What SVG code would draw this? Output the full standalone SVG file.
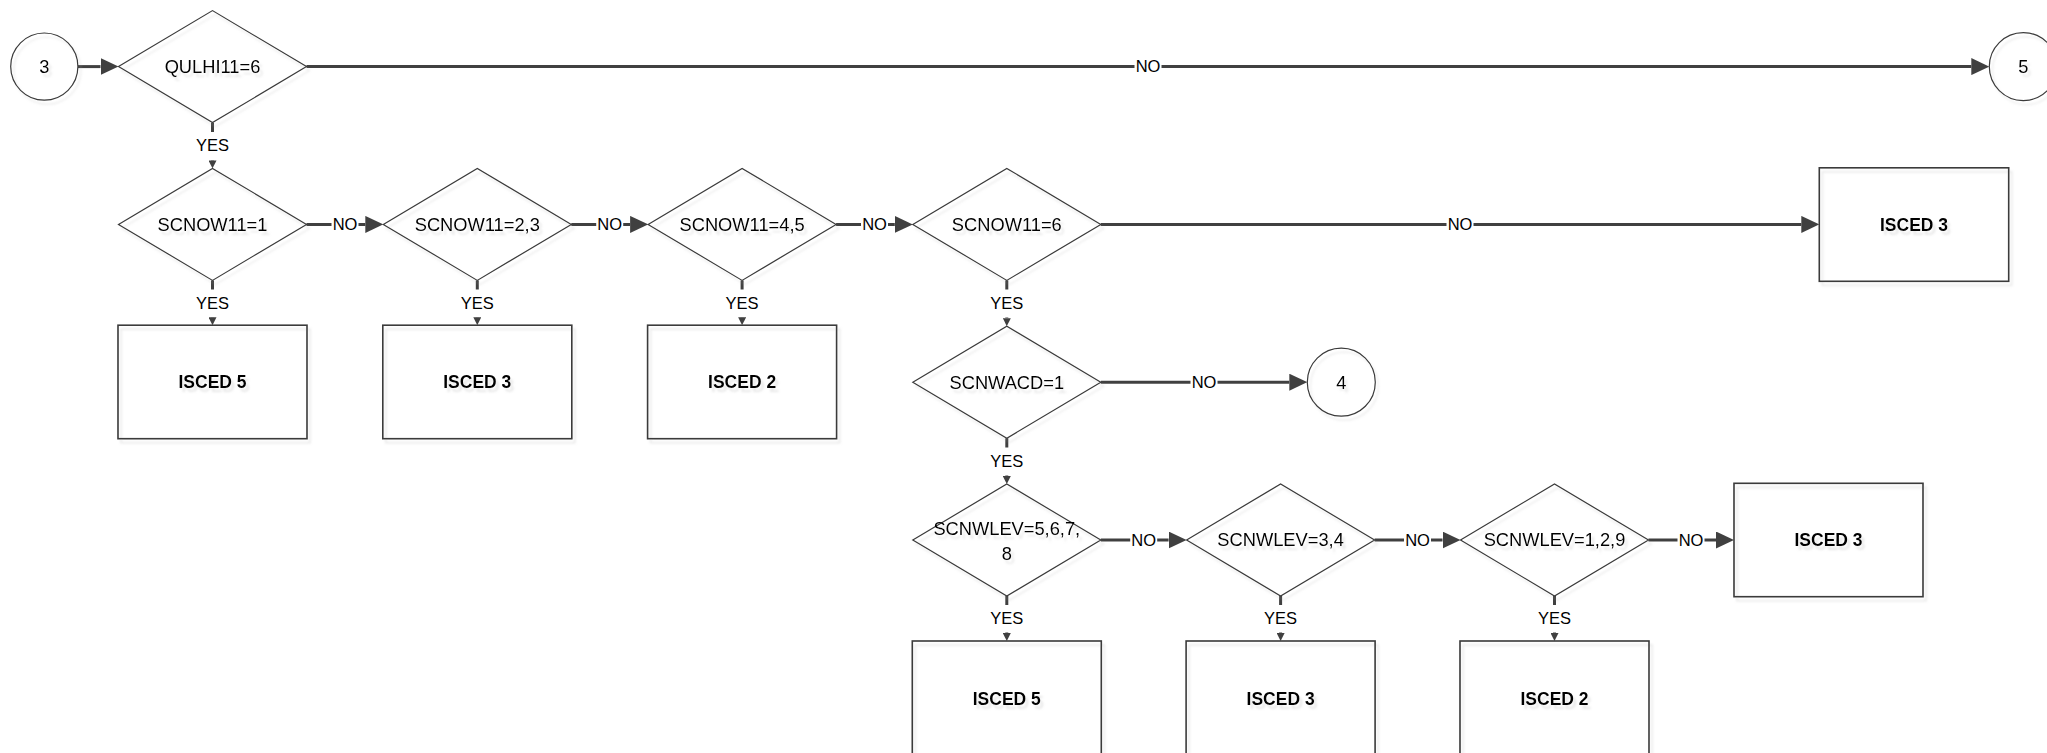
<svg xmlns="http://www.w3.org/2000/svg" width="2047" height="753" viewBox="0 0 2047 753">
<style>
  .shape { fill: none; stroke: #3a3a3a; stroke-width: 1.2; }
  .box { fill: none; stroke: #3a3a3a; stroke-width: 1.6; }
  .t { font-family: "Liberation Sans", Arial, sans-serif; font-size: 18.3px; fill: #000; text-anchor: middle; }
  .tb { font-family: "Liberation Sans", Arial, sans-serif; font-size: 17.5px; font-weight: bold; fill: #000; text-anchor: middle; }
  .node { filter: url(#sh); }
  .c { fill: none; stroke: #404040; stroke-width: 3; }
  .big { marker-end: url(#ab); }
  .small { marker-end: url(#as); }
  .lb { fill: #fff; }
  .lt { font-family: "Liberation Sans", Arial, sans-serif; font-size: 16.5px; fill: #000; text-anchor: middle; }
</style>
<defs>
  <filter id="sh" x="-10%" y="-10%" width="130%" height="130%">
    <feDropShadow dx="3" dy="4" stdDeviation="0.8" flood-color="#b0b0b0" flood-opacity="0.28"/>
  </filter>
  <marker id="ab" markerUnits="userSpaceOnUse" viewBox="0 0 18 17" refX="0" refY="8.5" markerWidth="18" markerHeight="17" orient="auto">
    <path d="M0,0 L18,8.5 L0,17 Z" fill="#404040"/>
  </marker>
  <marker id="as" markerUnits="userSpaceOnUse" viewBox="0 0 8 8" refX="0" refY="4" markerWidth="8" markerHeight="8" orient="auto">
    <path d="M0,0 L8,4 L0,8 Z" fill="#404040"/>
  </marker>
</defs>
<rect width="2047" height="753" fill="#fff"/>

<g id="connectors">
  <path class="c big" d="M78,66.6 H100.5"/>
  <path class="c big" d="M306.5,66.6 H1971.3"/>
  <rect class="lb" x="1134.5" y="57" width="27" height="19"/>
  <text class="lt" x="1148" y="72.4">NO</text>
  <path class="c small" d="M212.5,122.6 V160.4"/>
  <rect class="lb" x="195" y="132" width="35" height="28"/>
  <text class="lt" x="212.5" y="151.3">YES</text>

  <path class="c small" d="M212.5,280.4 V317.2"/>
  <rect class="lb" x="195" y="289.5" width="35" height="27.5"/>
  <text class="lt" x="212.5" y="308.6">YES</text>
  <path class="c big" d="M306.5,224.4 H365.3"/>
  <rect class="lb" x="331.5" y="215" width="27" height="19"/>
  <text class="lt" x="345" y="230.2">NO</text>

  <path class="c small" d="M477.3,280.4 V317.2"/>
  <rect class="lb" x="459.8" y="289.5" width="35" height="27.5"/>
  <text class="lt" x="477.3" y="308.6">YES</text>
  <path class="c big" d="M571.3,224.4 H630.1"/>
  <rect class="lb" x="596.2" y="215" width="27" height="19"/>
  <text class="lt" x="609.7" y="230.2">NO</text>

  <path class="c small" d="M742.1,280.4 V317.2"/>
  <rect class="lb" x="724.6" y="289.5" width="35" height="27.5"/>
  <text class="lt" x="742.1" y="308.6">YES</text>
  <path class="c big" d="M836.1,224.4 H894.8"/>
  <rect class="lb" x="861" y="215" width="27" height="19"/>
  <text class="lt" x="874.5" y="230.2">NO</text>

  <path class="c big" d="M1100.8,224.4 H1801.3"/>
  <rect class="lb" x="1446.5" y="215" width="27" height="19"/>
  <text class="lt" x="1460" y="230.2">NO</text>
  <path class="c small" d="M1006.8,280.4 V318.2"/>
  <rect class="lb" x="989.3" y="289.5" width="35" height="28"/>
  <text class="lt" x="1006.8" y="309.1">YES</text>

  <path class="c big" d="M1100.8,382.2 H1289.3"/>
  <rect class="lb" x="1190.5" y="373" width="27" height="19"/>
  <text class="lt" x="1204" y="388">NO</text>
  <path class="c small" d="M1006.8,438.2 V476"/>
  <rect class="lb" x="989.3" y="447.5" width="35" height="28"/>
  <text class="lt" x="1006.8" y="466.8">YES</text>

  <path class="c small" d="M1006.8,596 V633"/>
  <rect class="lb" x="989.3" y="605" width="35" height="27.5"/>
  <text class="lt" x="1006.8" y="624.2">YES</text>
  <path class="c big" d="M1100.8,540 H1168.6"/>
  <rect class="lb" x="1130.2" y="530.5" width="27" height="19"/>
  <text class="lt" x="1143.7" y="545.8">NO</text>

  <path class="c small" d="M1280.6,596 V633"/>
  <rect class="lb" x="1263.1" y="605" width="35" height="27.5"/>
  <text class="lt" x="1280.6" y="624.2">YES</text>
  <path class="c big" d="M1374.6,540 H1442.5"/>
  <rect class="lb" x="1404" y="530.5" width="27" height="19"/>
  <text class="lt" x="1417.5" y="545.8">NO</text>

  <path class="c small" d="M1554.5,596 V633"/>
  <rect class="lb" x="1537" y="605" width="35" height="27.5"/>
  <text class="lt" x="1554.5" y="624.2">YES</text>
  <path class="c big" d="M1648.5,540 H1716"/>
  <rect class="lb" x="1677.5" y="530.5" width="27" height="19"/>
  <text class="lt" x="1691" y="545.8">NO</text>
</g>

<g id="c3" class="node">
  <circle class="shape" cx="44.3" cy="66.6" r="33.6"/>
  <text class="t" x="44.3" y="73">3</text>
</g>
<g id="c5" class="node">
  <circle class="shape" cx="2023.3" cy="66.6" r="34"/>
  <text class="t" x="2023.3" y="73">5</text>
</g>
<g id="c4" class="node">
  <circle class="shape" cx="1341.3" cy="382.2" r="34"/>
  <text class="t" x="1341.3" y="388.6">4</text>
</g>

<g id="d-qulhi11" class="node">
  <polygon class="shape" points="118.5,66.6 212.5,10.6 306.5,66.6 212.5,122.6"/>
  <text class="t" x="212.5" y="73">QULHI11=6</text>
</g>
<g id="d-scnow11-1" class="node">
  <polygon class="shape" points="118.5,224.4 212.5,168.4 306.5,224.4 212.5,280.4"/>
  <text class="t" x="212.5" y="230.8">SCNOW11=1</text>
</g>
<g id="d-scnow11-23" class="node">
  <polygon class="shape" points="383.3,224.4 477.3,168.4 571.3,224.4 477.3,280.4"/>
  <text class="t" x="477.3" y="230.8">SCNOW11=2,3</text>
</g>
<g id="d-scnow11-45" class="node">
  <polygon class="shape" points="648.1,224.4 742.1,168.4 836.1,224.4 742.1,280.4"/>
  <text class="t" x="742.1" y="230.8">SCNOW11=4,5</text>
</g>
<g id="d-scnow11-6" class="node">
  <polygon class="shape" points="912.8,224.4 1006.8,168.4 1100.8,224.4 1006.8,280.4"/>
  <text class="t" x="1006.8" y="230.8">SCNOW11=6</text>
</g>
<g id="d-scnwacd" class="node">
  <polygon class="shape" points="912.8,382.2 1006.8,326.2 1100.8,382.2 1006.8,438.2"/>
  <text class="t" x="1006.8" y="388.6">SCNWACD=1</text>
</g>
<g id="d-scnwlev-5678" class="node">
  <polygon class="shape" points="912.8,540 1006.8,484 1100.8,540 1006.8,596"/>
  <text class="t" x="1006.8" y="534.5">SCNWLEV=5,6,7,</text>
  <text class="t" x="1006.8" y="559.5">8</text>
</g>
<g id="d-scnwlev-34" class="node">
  <polygon class="shape" points="1186.6,540 1280.6,484 1374.6,540 1280.6,596"/>
  <text class="t" x="1280.6" y="546.4">SCNWLEV=3,4</text>
</g>
<g id="d-scnwlev-129" class="node">
  <polygon class="shape" points="1460.5,540 1554.5,484 1648.5,540 1554.5,596"/>
  <text class="t" x="1554.5" y="546.4">SCNWLEV=1,2,9</text>
</g>

<g id="r-isced5-a" class="node">
  <rect class="box" x="118" y="325.2" width="189" height="113.5"/>
  <text class="tb" x="212.5" y="388.2">ISCED 5</text>
</g>
<g id="r-isced3-a" class="node">
  <rect class="box" x="382.8" y="325.2" width="189" height="113.5"/>
  <text class="tb" x="477.3" y="388.2">ISCED 3</text>
</g>
<g id="r-isced2-a" class="node">
  <rect class="box" x="647.6" y="325.2" width="189" height="113.5"/>
  <text class="tb" x="742.1" y="388.2">ISCED 2</text>
</g>
<g id="r-isced3-b" class="node">
  <rect class="box" x="1819.3" y="167.8" width="189.4" height="113.5"/>
  <text class="tb" x="1914" y="230.6">ISCED 3</text>
</g>
<g id="r-isced3-c" class="node">
  <rect class="box" x="1734" y="483.3" width="189" height="113.4"/>
  <text class="tb" x="1828.5" y="546.2">ISCED 3</text>
</g>
<g id="r-isced5-b" class="node">
  <rect class="box" x="912.3" y="641" width="189" height="113.5"/>
  <text class="tb" x="1006.8" y="704.5">ISCED 5</text>
</g>
<g id="r-isced3-d" class="node">
  <rect class="box" x="1186.1" y="641" width="189" height="113.5"/>
  <text class="tb" x="1280.6" y="704.5">ISCED 3</text>
</g>
<g id="r-isced2-b" class="node">
  <rect class="box" x="1460" y="641" width="189" height="113.5"/>
  <text class="tb" x="1554.5" y="704.5">ISCED 2</text>
</g>
</svg>
